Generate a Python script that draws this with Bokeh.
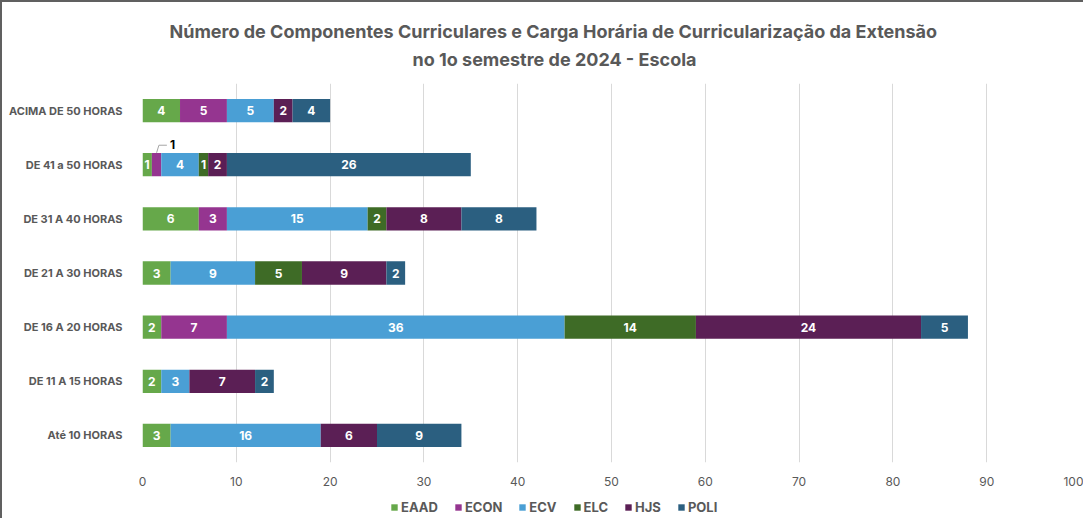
from bokeh.plotting import figure
from bokeh.layouts import column
from bokeh.models import ColumnDataSource, Legend, LegendItem, Title, FactorRange, Range1d
from bokeh.transform import dodge
from bokeh.core.properties import value
from bokeh.embed import file_html
from bokeh.resources import INLINE

categories = ["Até 10 HORAS", "DE 11 A 15 HORAS", "DE 16 A 20 HORAS", "DE 21 A 30 HORAS",
              "DE 31 A 40 HORAS", "DE 41 a 50 HORAS", "ACIMA DE 50 HORAS"]
series = ["EAAD", "ECON", "ECV", "ELC", "HJS", "POLI"]
EAAD = [3, 2, 2, 3, 6, 1, 4]
ECON = [0, 0, 7, 0, 3, 1, 5]
ECV = [16, 3, 36, 9, 15, 4, 5]
ELC = [0, 0, 14, 5, 2, 1, 0]
HJS = [6, 7, 24, 9, 8, 2, 2]
POLI = [9, 2, 5, 2, 8, 26, 4]
colors = ["#66a84a", "#953590", "#4a9fd5", "#3e6b26", "#5b1f55", "#2b5f80"]
x_ticks = [0, 10, 20, 30, 40, 50, 60, 70, 80, 90, 100]

values = {"EAAD": EAAD, "ECON": ECON, "ECV": ECV, "ELC": ELC, "HJS": HJS, "POLI": POLI}

FONT = "Inter"
GREY = "#595959"

p = figure(width=1081, height=488, output_backend="svg", toolbar_location=None,
           y_range=FactorRange(factors=categories), x_range=(0, 100),
           min_border_left=140, min_border_right=3, min_border_top=81, min_border_bottom=28)
p.y_range.range_padding = 0

p.outline_line_color = None
p.xgrid.grid_line_color = "#d9d9d9"
p.xgrid.grid_line_width = 1
p.ygrid.grid_line_color = None
p.xaxis.ticker = x_ticks
p.xaxis.axis_line_color = None
p.xaxis.major_tick_line_color = None
p.xaxis.minor_tick_line_color = None
p.xaxis.major_label_text_font = FONT
p.xaxis.major_label_text_font_size = "12px"
p.xaxis.major_label_text_color = GREY
p.xaxis.major_label_standoff = 8
p.yaxis.axis_line_color = None
p.yaxis.major_tick_line_color = None
p.yaxis.minor_tick_line_color = None
p.yaxis.major_label_text_font = FONT
p.yaxis.major_label_text_font_size = "11px"
p.yaxis.major_label_text_font_style = "bold"
p.yaxis.major_label_text_color = GREY
p.yaxis.major_label_standoff = 14

left = [0] * len(categories)
for s, c in zip(series, colors):
    vals = values[s]
    right = [l + v for l, v in zip(left, vals)]
    src = ColumnDataSource(dict(cat=categories, left=left, right=right))
    p.hbar(y="cat", left="left", right="right", height=0.43, source=src,
           fill_color=c, line_color=None)
    lab_cat, lab_x, lab_t = [], [], []
    out_cat, out_x = [], []
    for cat, l, v in zip(categories, left, vals):
        if v == 0:
            continue
        if s == "ECON" and v == 1:
            out_cat.append(cat)
            out_x.append(l + v / 2)
            continue
        lab_cat.append(cat)
        lab_x.append(l + v / 2)
        lab_t.append(str(v))
    lsrc = ColumnDataSource(dict(cat=lab_cat, x=lab_x, t=lab_t))
    p.text(x="x", y="cat", text="t", source=lsrc, text_align="center", text_baseline="middle",
           text_color="white", text_font=value(FONT), text_font_style="bold",
           text_font_size="12px")
    if out_cat:
        osrc = ColumnDataSource(dict(cat=out_cat, x0=out_x,
                                     x1=[x + 0.25 for x in out_x],
                                     x2=[x + 1.1 for x in out_x],
                                     x3=[x + 1.7 for x in out_x],
                                     t=["1"] * len(out_cat)))
        p.segment(x0="x0", y0=dodge("cat", 0.22, range=p.y_range),
                  x1="x1", y1=dodge("cat", 0.36, range=p.y_range),
                  source=osrc, line_color="#a6a6a6", line_width=1)
        p.segment(x0="x1", y0=dodge("cat", 0.36, range=p.y_range),
                  x1="x2", y1=dodge("cat", 0.36, range=p.y_range),
                  source=osrc, line_color="#a6a6a6", line_width=1)
        p.text(x="x3", y=dodge("cat", 0.38, range=p.y_range), text="t", source=osrc,
               text_align="center", text_baseline="middle", text_color="black",
               text_font=value(FONT), text_font_style="bold", text_font_size="12px")
    left = right

spacer = Title(text=" ", align="left", standoff=5, text_font=FONT, text_font_size="1px")
t2 = Title(text="no 1o semestre de 2024 - Escola", align="left", offset=270, standoff=11,
           text_font=FONT, text_font_size="18px", text_font_style="bold", text_color=GREY)
t1 = Title(text="Número de Componentes Curriculares e Carga Horária de Curricularização da Extensão",
           align="left", offset=27, standoff=0, text_font=FONT, text_font_size="18px",
           text_font_style="bold", text_color=GREY)
p.add_layout(spacer, "above")
p.add_layout(t2, "above")
p.add_layout(t1, "above")

# legend strip below the chart
pl = figure(width=1081, height=28, output_backend="svg", toolbar_location=None,
            x_axis_location=None, y_axis_location=None, min_border=0,
            x_range=Range1d(0, 1), y_range=Range1d(0, 1))
pl.outline_line_color = None
pl.grid.grid_line_color = None
items = []
for s, c in zip(series, colors):
    r = pl.quad(left=[-3], right=[-2], top=[-2], bottom=[-3], fill_color=c, line_color=None)
    items.append(LegendItem(label=s, renderers=[r]))
legend = Legend(items=items, orientation="horizontal", location=(248, 3),
                label_text_font=FONT, label_text_font_size="13px",
                label_text_font_style="bold", label_text_color=GREY,
                glyph_width=8, glyph_height=8, spacing=16, label_standoff=3,
                border_line_color=None, background_fill_alpha=0, padding=0, margin=0)
pl.add_layout(legend, "center")

layout = column(p, pl, spacing=0,
                styles={"border-top": "2px solid #606060", "border-left": "2px solid #606060"})
open("out.html", "w").write(file_html(layout, INLINE))
